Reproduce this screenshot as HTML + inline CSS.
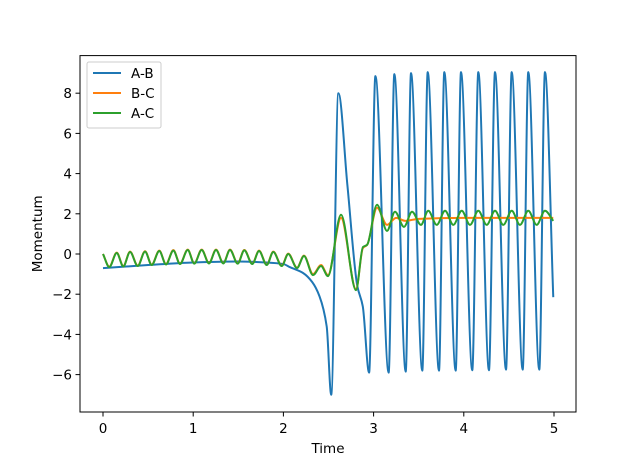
<!DOCTYPE html>
<html><head><meta charset="utf-8"><style>
body{margin:0;background:#fff}
svg{font-family:"DejaVu Sans","Liberation Sans",sans-serif}
</style></head><body>
<svg width="640" height="463" viewBox="0 0 640 463">
<g id="plot"></g>
</svg>
<script>
const xTicks=[0,1,2,3,4,5];
const yTicks=[-6,-4,-2,0,2,4,6,8];
const abT=[0,0.5,1.0,1.5,1.8,2.0,2.07,2.22,2.32,2.4,2.48,2.53,2.61,2.71,2.82,2.88,2.95,3.02,3.167,3.23,3.356,3.415,3.54,3.60,3.725,3.784,3.91,3.969,4.094,4.161,4.279,4.346,4.468,4.531,4.653,4.715,4.837,4.90,4.992];
const abV=[-0.7,-0.55,-0.42,-0.37,-0.42,-0.5,-0.65,-0.95,-1.4,-2.1,-3.6,-7.0,8.0,3.4,-1.6,-2.6,-5.9,8.85,-5.9,8.95,-5.85,9.0,-5.8,9.05,-5.8,9.05,-5.8,9.05,-5.78,9.05,-5.78,9.05,-5.75,9.05,-5.75,9.05,-5.75,9.05,-2.15];
const acT=[0,0.07,0.152,0.225,0.30,0.385,0.466,0.54,0.624,0.698,0.78,0.854,0.939,1.012,1.094,1.175,1.253,1.334,1.408,1.493,1.567,1.655,1.73,1.815,1.888,1.981,2.054,2.151,2.228,2.328,2.417,2.494,2.639,2.805,2.882,2.927,3.038,3.149,3.237,3.337,3.426,3.525,3.606,3.70,3.792,3.884,3.977,4.069,4.161,4.254,4.346,4.438,4.531,4.623,4.715,4.808,4.90,4.992];
const acV=[0.0,-0.65,0.05,-0.62,0.1,-0.6,0.12,-0.55,0.15,-0.52,0.17,-0.5,0.2,-0.48,0.2,-0.47,0.2,-0.47,0.2,-0.48,0.18,-0.5,0.15,-0.55,0.1,-0.6,0.0,-0.7,-0.1,-1.05,-0.6,-1.1,1.95,-1.8,0.35,0.45,2.45,1.15,2.1,1.35,2.1,1.45,2.15,1.45,2.15,1.45,2.15,1.45,2.15,1.45,2.15,1.45,2.15,1.45,2.15,1.45,2.15,1.65];
const bcT=[0,0.07,0.152,0.225,0.30,0.385,0.466,0.54,0.624,0.698,0.78,0.854,0.939,1.012,1.094,1.175,1.253,1.334,1.408,1.493,1.567,1.655,1.73,1.815,1.888,1.981,2.054,2.151,2.228,2.328,2.417,2.494,2.639,2.805,2.882,2.927,3.038,3.149,3.25,3.35,3.5,4.0,4.5,4.992];
const bcV=[0.0,-0.63,0.07,-0.6,0.12,-0.58,0.14,-0.53,0.17,-0.5,0.19,-0.48,0.22,-0.46,0.22,-0.45,0.22,-0.45,0.22,-0.46,0.2,-0.48,0.17,-0.53,0.12,-0.58,0.02,-0.68,-0.08,-1.0,-0.55,-1.05,1.8,-1.75,0.3,0.45,2.3,1.45,1.8,1.65,1.75,1.8,1.8,1.8];

const L=80,R=576,T=55.6,B=412;
const x0=-0.255,x1=5.244,y0=-7.86,y1=9.87;
const sx=t=>L+(t-x0)/(x1-x0)*(R-L);
const sy=v=>B-(v-y0)/(y1-y0)*(B-T);
const NS="http://www.w3.org/2000/svg";
const svg=document.querySelector('svg');
function mk(tag,attrs,parent){const e=document.createElementNS(NS,tag);for(const k in attrs)e.setAttribute(k,attrs[k]);(parent||svg).appendChild(e);return e;}

function monotonePath(xs,ys){
  const n=xs.length,px=xs.map(sx),py=ys.map(sy);
  const d=[],m=new Array(n);
  for(let i=0;i<n-1;i++)d.push((py[i+1]-py[i])/(px[i+1]-px[i]));
  m[0]=d[0];m[n-1]=d[n-2];
  for(let i=1;i<n-1;i++){
    if(d[i-1]*d[i]<=0)m[i]=0;
    else{const h0=px[i]-px[i-1],h1=px[i+1]-px[i];const w1=2*h1+h0,w2=h1+2*h0;m[i]=(w1+w2)/(w1/d[i-1]+w2/d[i]);}
  }
  let s="M"+px[0].toFixed(2)+","+py[0].toFixed(2);
  for(let i=0;i<n-1;i++){
    const h=(px[i+1]-px[i])/3;
    s+="C"+(px[i]+h).toFixed(2)+","+(py[i]+m[i]*h).toFixed(2)+" "+(px[i+1]-h).toFixed(2)+","+(py[i+1]-m[i+1]*h).toFixed(2)+" "+px[i+1].toFixed(2)+","+py[i+1].toFixed(2);
  }
  return s;
}
const plot=document.getElementById('plot');
const series=[[abT,abV,'#1f77b4','line-a-b'],[bcT,bcV,'#ff7f0e','line-b-c'],[acT,acV,'#2ca02c','line-a-c']];
series.forEach(s=>{
  const p=mk('path',{d:monotonePath(s[0],s[1]),fill:'none',stroke:s[2],'stroke-width':2,'stroke-linejoin':'round'},plot);
  
  
});
const frame=mk('rect',{x:L,y:T,width:R-L,height:B-T,fill:'none',stroke:'#000','stroke-width':1});


xTicks.forEach(t=>{
  const X=sx(t);
  const tk=mk('line',{x1:X,x2:X,y1:B,y2:B+4.5,stroke:'#000','stroke-width':1});
  
  
  const tx=mk('text',{x:X,y:B+21,'text-anchor':'middle','font-size':13.5});
  tx.textContent=t;
  
  
});
yTicks.forEach(v=>{
  const Y=sy(v);
  const tk=mk('line',{x1:L-4.5,x2:L,y1:Y,y2:Y,stroke:'#000','stroke-width':1});
  
  
  const tx=mk('text',{x:L-8,y:Y+5,'text-anchor':'end','font-size':13.5});
  tx.textContent=v<0?'\u2212'+(-v):v;
  
  
});
const xl=mk('text',{x:(L+R)/2,y:453,'text-anchor':'middle','font-size':13.5});
xl.textContent='Time';


const yl=mk('text',{x:0,y:0,'text-anchor':'middle','font-size':13.5,transform:'translate(42,'+((T+B)/2)+') rotate(-90)'});
yl.textContent='Momentum';


const lg=mk('g',{});


mk('rect',{x:87,y:62,width:74,height:66,rx:2,fill:'#fff','fill-opacity':0.8,stroke:'#ccc','stroke-width':1},lg);
const names=['A-B','B-C','A-C'],cols=['#1f77b4','#ff7f0e','#2ca02c'];
names.forEach((n,i)=>{
  const y=73+i*20;
  const ln=mk('line',{x1:93,x2:121,y1:y,y2:y,stroke:cols[i],'stroke-width':2},lg);
  
  
  const tx=mk('text',{x:131,y:y+5,'font-size':13.5},lg);
  tx.textContent=n;
  
  
});
</script>
</body></html>
